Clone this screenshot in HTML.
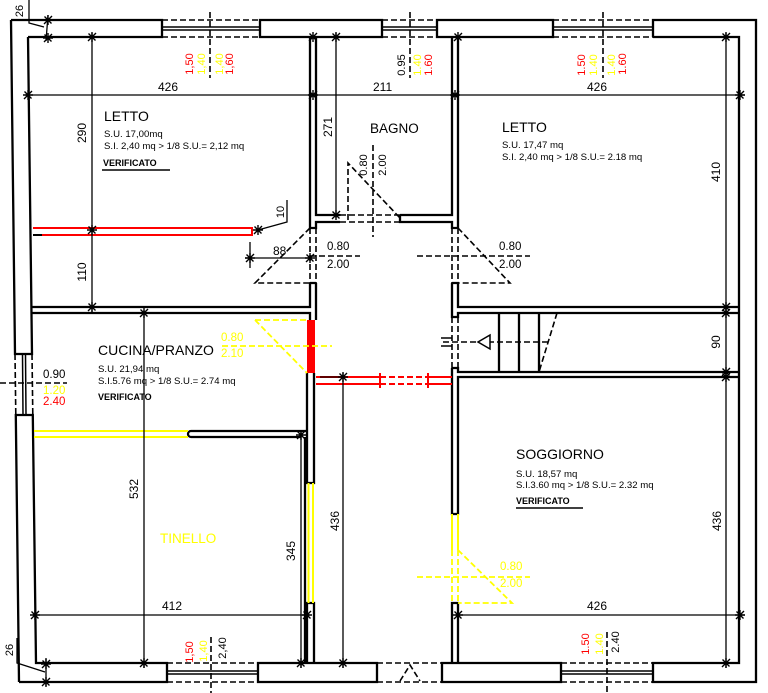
<!DOCTYPE html>
<html><head><meta charset="utf-8"><style>
html,body{margin:0;padding:0;background:#fff;}
svg{display:block}
text{font-family:"Liberation Sans",sans-serif;}
</style></head><body>
<svg width="768" height="693" viewBox="0 0 768 693" xmlns="http://www.w3.org/2000/svg">
<defs>
<g id="t"><path d="M-4 4L4-4M-3.5-3.5L3.5 3.5M0-5V5M-5 0H5" stroke="#000" stroke-width="1.4" fill="none"/></g>
</defs>
<rect width="768" height="693" fill="#fff"/>

<!-- OUTER WALLS -->
<g stroke="#000" stroke-width="2.3" fill="none">
 <path d="M11 20H162V37H28"/>
 <path d="M260 20H382V37H260Z"/>
 <path d="M437 20H553V37H437Z"/>
 <path d="M653 37V20H756V682H653V663H739V37H653"/>
 <path d="M11 20L15 354H32L28 37"/>
 <path d="M19 682L15.8 415H32.8L36 663H167V682H19"/>
 <path d="M258 663H377V682H258Z"/>
 <path d="M442 663H561V682H442Z"/>
 <path d="M162 27H260M162 30H260M382 27H437M382 30H437M553 27H653M553 30H653" stroke-width="1.5"/>
 <path d="M167 671H258M167 674H258M561 671H653M561 674H653" stroke-width="1.5"/>
 <path d="M22.5 354.5L23 414.5M25.5 354.5L26 414.5" stroke-width="1.5"/>
</g>
<g stroke="#000" stroke-width="1.6" fill="none" stroke-dasharray="6 3">
 <path d="M162 20H260M162 37H260M382 20H437M382 37H437M553 20H653M553 37H653"/>
 <path d="M167 663H258M167 682H258M561 663H653M561 682H653M377 663H442M377 682H442"/>
 <path d="M15 354L15.8 415M32 354L32.8 415"/>
 <path d="M400 681L410 665L420 681"/>
 <path d="M210 12V78M410 12V78M603 12V78M211 637V693M607 632V693"/>
 <path d="M0 383H67"/>
</g>

<!-- INTERIOR WALLS -->
<g stroke="#000" stroke-width="2.3" fill="none">
 <path d="M310 37V228H316V222H340M316 37V215H340"/>
 <path d="M400 215V222H452V228H458V37M400 215H452V37"/>
 <path d="M310 283H316M310 283V307H31.5M31.6 313H310V320M316 283V320"/>
 <path d="M452 283H458V307H739M452 283V317H458V313H739"/>
 <path d="M452 368H458V372H739M452 368V514H458V377H739"/>
 <path d="M307 373V483H314V373"/>
 <path d="M307 663V603H314V663"/>
 <path d="M452 663V603H458V663"/>
 <path d="M307 431H191A3 3 0 0 0 191 437H301"/>
 <path d="M305 437V663"/>
 <path d="M499 313V372M519 313V372M539 313V372"/>
</g>
<rect x="307" y="320" width="8" height="53" fill="#f00"/>

<!-- dashed black openings -->
<g stroke="#000" stroke-width="1.6" fill="none" stroke-dasharray="6 3">
 <path d="M340 215H400M340 222H400"/>
 <path d="M348 220V163L400 218"/>
 <path d="M373 145V237"/>
 <path d="M310 228V283M316 228V283M452 228V283M458 228V283"/>
 <path d="M310 228L255 283H310"/>
 <path d="M458 228L510 283H458"/>
 <path d="M310 256H360M417 256H530"/>
 <path d="M452 317V368M458 317V368"/>
 <path d="M557 313L539 372"/>
 <path d="M443 342H548"/>
</g>
<path d="M490 335L478 342L490 349Z" stroke="#000" stroke-width="1.5" fill="#fff"/>
<path d="M441 338H452M441 346H452" stroke="#000" stroke-width="1.5"/>

<!-- yellow -->
<g stroke="#ffff00" stroke-width="2" fill="none">
 <path d="M34 431H188M34 437H188"/>
 <path d="M308.5 483V603M313 483V603"/>
 <path d="M452 514V550M458 514V550"/>
</g>
<g stroke="#ffff00" stroke-width="1.8" fill="none" stroke-dasharray="6 3">
 <path d="M452 550V603M458 550V603"/>
 <path d="M458 550L512 603H458"/>
 <path d="M417 577H530"/>
 <path d="M255 320H307"/>
 <path d="M255 320L307 373"/>
 <path d="M222 346H332"/>
</g>

<!-- red -->
<g stroke="#f00" stroke-width="2" fill="none">
 <path d="M33 228H252V235H33"/>
 <path d="M316 377H380M316 384H380M428 377H452M428 384H452"/>
 <path d="M380 373V388M428 373V388"/>
 <path d="M380 377H428M380 384H428" stroke-dasharray="6 3"/>
</g>
<path d="M33 235H42" stroke="#000" stroke-width="2"/>

<!-- DIMENSION LINES -->
<g stroke="#000" stroke-width="1.3" fill="none">
 <path d="M25 95H745"/>
 <path d="M92 33V313"/>
 <path d="M336 33V218"/>
 <path d="M726 33V668"/>
 <path d="M144 310V668"/>
 <path d="M301 432V668"/>
 <path d="M343 373V668M320 377H345"/>
 <path d="M33 615H310"/>
 <path d="M455 615H745"/>
 <path d="M245 258H310M250 242V268"/>
 <path d="M258 230L287 222V200"/>
 <path d="M29 0V23L44 27M48 15L46 41"/>
 <path d="M17 638V663L45 672M46 658V686"/>
</g>
<g>
 <use href="#t" x="28" y="95"/><use href="#t" x="313" y="95"/><use href="#t" x="455" y="95"/><use href="#t" x="740" y="95"/>
 <use href="#t" x="92" y="37"/><use href="#t" x="92" y="230"/><use href="#t" x="92" y="307"/>
 <use href="#t" x="336" y="37"/><use href="#t" x="336" y="215"/>
 <use href="#t" x="726" y="37"/><use href="#t" x="726" y="307"/><use href="#t" x="726" y="313"/><use href="#t" x="726" y="372"/><use href="#t" x="726" y="377"/><use href="#t" x="726" y="663"/>
 <use href="#t" x="144" y="313"/><use href="#t" x="144" y="663"/>
 <use href="#t" x="301" y="435"/><use href="#t" x="301" y="663"/>
 <use href="#t" x="343" y="377"/><use href="#t" x="343" y="663"/>
 <use href="#t" x="35" y="615"/><use href="#t" x="307" y="615"/>
 <use href="#t" x="458" y="615"/><use href="#t" x="740" y="615"/>
 <use href="#t" x="250" y="258"/><use href="#t" x="310" y="258"/>
 <use href="#t" x="258" y="230"/>
 <use href="#t" x="48" y="20"/><use href="#t" x="48" y="38"/>
 <use href="#t" x="46" y="664"/><use href="#t" x="46" y="682"/>
 <use href="#t" x="458" y="37"/><use href="#t" x="313" y="37"/>
</g>

<!-- DIMENSION TEXT -->
<g font-size="12" fill="#000">
 <text x="158" y="91">426</text>
 <text x="373" y="91">211</text>
 <text x="587" y="91">426</text>
 <text x="162" y="610">412</text>
 <text x="587" y="610">426</text>
 <text x="273" y="255">88</text>
</g>
<g font-size="12" fill="#000" text-anchor="middle">
 <text transform="translate(82,133) rotate(-90)" dy="4">290</text>
 <text transform="translate(82,272) rotate(-90)" dy="4">110</text>
 <text transform="translate(328,127) rotate(-90)" dy="4">271</text>
 <text transform="translate(716,172) rotate(-90)" dy="4">410</text>
 <text transform="translate(716,342) rotate(-90)" dy="4">90</text>
 <text transform="translate(717,521) rotate(-90)" dy="4">436</text>
 <text transform="translate(335,521) rotate(-90)" dy="4">436</text>
 <text transform="translate(134,489) rotate(-90)" dy="4">532</text>
 <text transform="translate(291,551) rotate(-90)" dy="4">345</text>
 <text transform="translate(280,212) rotate(-90)" dy="4" font-size="11">10</text>
 <text transform="translate(19,11) rotate(-90)" dy="4" font-size="11">26</text>
 <text transform="translate(9,650) rotate(-90)" dy="4" font-size="11">26</text>
</g>

<!-- window labels rotated -->
<g font-size="11" text-anchor="middle">
 <text transform="translate(189,64) rotate(-90)" dy="4" fill="#f00">1,50</text>
 <text transform="translate(201,64) rotate(-90)" dy="4" fill="#ffff00">1,40</text>
 <text transform="translate(219,64) rotate(-90)" dy="4" fill="#ffff00">1,40</text>
 <text transform="translate(229,64) rotate(-90)" dy="4" fill="#f00">1,60</text>
 <text transform="translate(401,65) rotate(-90)" dy="4" fill="#000">0.95</text>
 <text transform="translate(417,65) rotate(-90)" dy="4" fill="#ffff00">1.40</text>
 <text transform="translate(428,65) rotate(-90)" dy="4" fill="#f00">1.60</text>
 <text transform="translate(581,65) rotate(-90)" dy="4" fill="#f00">1.50</text>
 <text transform="translate(593,65) rotate(-90)" dy="4" fill="#ffff00">1.40</text>
 <text transform="translate(611,65) rotate(-90)" dy="4" fill="#ffff00">1.40</text>
 <text transform="translate(622,64) rotate(-90)" dy="4" fill="#f00">1.60</text>
 <text transform="translate(189,652) rotate(-90)" dy="4" fill="#f00">1,50</text>
 <text transform="translate(203,651) rotate(-90)" dy="4" fill="#ffff00">1,40</text>
 <text transform="translate(222,648) rotate(-90)" dy="4" fill="#000">2,40</text>
 <text transform="translate(585,644) rotate(-90)" dy="4" fill="#f00">1.50</text>
 <text transform="translate(599,644) rotate(-90)" dy="4" fill="#ffff00">1.40</text>
 <text transform="translate(615,642) rotate(-90)" dy="4" fill="#000">2.40</text>
 <text transform="translate(363,165) rotate(-90)" dy="4" fill="#000">0.80</text>
 <text transform="translate(382,165) rotate(-90)" dy="4" fill="#000">2.00</text>
</g>

<!-- door labels -->
<g font-size="11.5">
 <text x="327" y="250" fill="#000">0.80</text>
 <text x="327" y="268" fill="#000">2.00</text>
 <text x="499" y="250" fill="#000">0.80</text>
 <text x="499" y="268" fill="#000">2.00</text>
 <text x="221" y="341" fill="#ffff00">0.80</text>
 <text x="221" y="357" fill="#ffff00">2.10</text>
 <text x="500" y="570" fill="#ffff00">0.80</text>
 <text x="500" y="587" fill="#ffff00">2.00</text>
 <text x="43" y="378" fill="#000">0.90</text>
 <text x="43" y="394" fill="#ffff00">1.20</text>
 <text x="43" y="405" fill="#f00">2.40</text>
</g>

<!-- ROOM TEXT -->
<g fill="#000">
 <text x="104" y="121" font-size="14">LETTO</text>
 <text x="104" y="137" font-size="9.6">S.U. 17,00mq</text>
 <text x="104" y="149" font-size="9.6">S.I. 2,40 mq &gt; 1/8 S.U.= 2,12 mq</text>
 <text x="103" y="166" font-size="9" font-weight="bold">VERIFICATO</text>
 <path d="M102 170H170" stroke="#000" stroke-width="1.5"/>

 <text x="370" y="133" font-size="13.5">BAGNO</text>

 <text x="502" y="132" font-size="14">LETTO</text>
 <text x="502" y="148" font-size="9.6">S.U. 17,47 mq</text>
 <text x="502" y="160" font-size="9.6">S.I. 2,40 mq &gt; 1/8 S.U.= 2.18 mq</text>

 <text x="98" y="355" font-size="14">CUCINA/PRANZO</text>
 <text x="98" y="372" font-size="9.6">S.U. 21,94 mq</text>
 <text x="98" y="384" font-size="9.6">S.I.5.76 mq &gt; 1/8 S.U.= 2.74 mq</text>
 <text x="98" y="400" font-size="9" font-weight="bold">VERIFICATO</text>

 <text x="516" y="459" font-size="14">SOGGIORNO</text>
 <text x="516" y="477" font-size="9.6">S.U. 18,57 mq</text>
 <text x="516" y="488" font-size="9.6">S.I.3.60 mq &gt; 1/8 S.U.= 2.32 mq</text>
 <text x="516" y="504" font-size="9" font-weight="bold">VERIFICATO</text>
 <path d="M516 508H583" stroke="#000" stroke-width="1.5"/>
</g>
<text x="160" y="543" font-size="13.5" fill="#ffff00">TINELLO</text>
</svg>
</body></html>
